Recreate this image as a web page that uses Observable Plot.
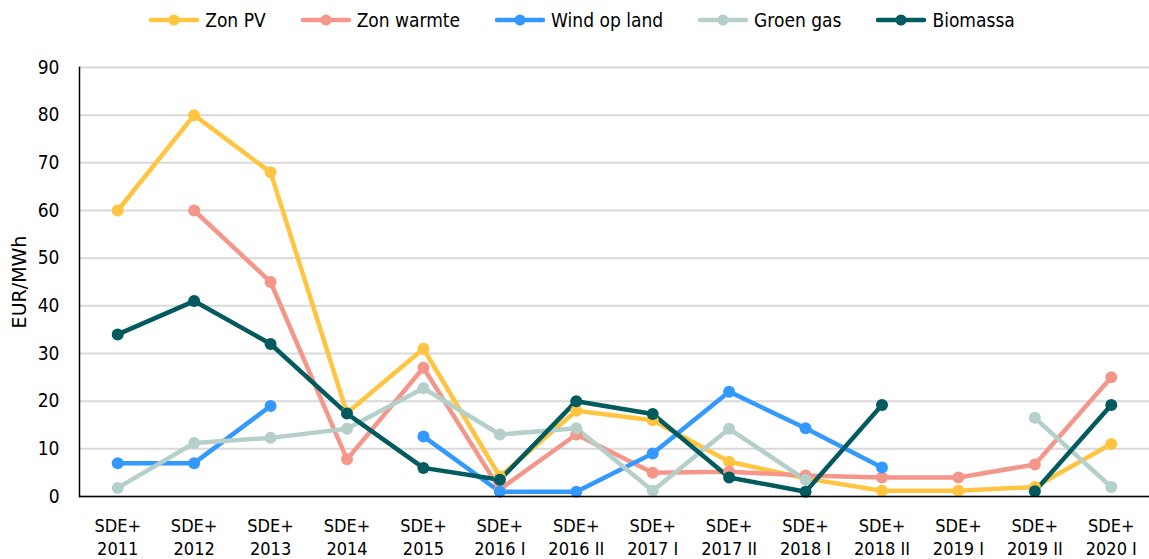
<!DOCTYPE html>
<html>
<head>
<meta charset="utf-8">
<script src="https://cdn.jsdelivr.net/npm/d3@7"></script>
<script src="https://cdn.jsdelivr.net/npm/@observablehq/plot@0.6"></script>
<style>
  html, body { margin: 0; padding: 0; background: #fff; }
  body { width: 1149px; height: 559px; overflow: hidden; font-family: "DejaVu Sans Condensed", "DejaVu Sans", sans-serif; }
  #legend { height: 40px; display: flex; justify-content: center; align-items: center; gap: 34px; font-size: 19px; color: #000; padding-left: 14px; box-sizing: border-box; }
  .item { display: flex; align-items: center; gap: 5px; }
</style>
</head>
<body>
<div id="legend"></div>
<div id="chart"></div>
<script>
const categories = ["SDE+\n2011","SDE+\n2012","SDE+\n2013","SDE+\n2014","SDE+\n2015","SDE+\n2016 I","SDE+\n2016 II","SDE+\n2017 I","SDE+\n2017 II","SDE+\n2018 I","SDE+\n2018 II","SDE+\n2019 I","SDE+\n2019 II","SDE+\n2020 I"];
const seriesNames = ["Zon PV","Zon warmte","Wind op land","Groen gas","Biomassa"];
const seriesColors = ["#FFC440","#F4978A","#3399FF","#B5CFCB","#005A5E"];
const zonPV      = [60, 80, 68, 17.5, 31, 4.2, 18, 16, 7.3, 3.8, 1.2, 1.2, 2, 11];
const zonWarmte  = [null, 60, 45, 7.8, 27, 1.5, 13, 5, 5.2, 4.4, 4, 4, 6.7, 25];
const windOpLand = [7, 7, 19, null, 12.6, 1, 1, 9, 22, 14.3, 6.1, null, null, null];
const groenGas   = [1.8, 11.2, 12.3, 14.2, 22.7, 13, 14.3, 1.2, 14.2, 3.5, null, null, 16.5, 2];
const biomassa   = [34, 41, 32, 17.4, 6, 3.5, 20, 17.3, 4, 1, 19.2, null, 1.1, 19.2];
const yTicks = [0,10,20,30,40,50,60,70,80,90];
const yLabel = "EUR/MWh";

const allSeries = [zonPV, zonWarmte, windOpLand, groenGas, biomassa];
const data = [];
allSeries.forEach((vals, si) => {
  vals.forEach((v, i) => data.push({cat: categories[i], value: v, series: seriesNames[si]}));
});

// legend
const legend = document.getElementById("legend");
seriesNames.forEach((name, i) => {
  const item = document.createElement("div");
  item.className = "item";
  item.innerHTML = `<svg width="52" height="14"><line x1="3" y1="7" x2="49" y2="7" stroke="${seriesColors[i]}" stroke-width="4.5" stroke-linecap="round"/><circle cx="26" cy="7" r="5.5" fill="${seriesColors[i]}"/></svg><span>${name}</span>`;
  legend.appendChild(item);
});

const chart = Plot.plot({
  width: 1149,
  height: 519,
  marginTop: 27,
  marginBottom: 63,
  marginLeft: 79,
  marginRight: 0,
  style: {fontFamily: '"DejaVu Sans Condensed", "DejaVu Sans", sans-serif', fontSize: "18px", color: "#000", background: "#fff"},
  x: {type: "point", domain: categories, padding: 0.5, round: false},
  y: {domain: [0, 90]},
  color: {domain: seriesNames, range: seriesColors},
  marks: [
    Plot.gridY(yTicks, {stroke: "#d9d9d9", strokeOpacity: 1, strokeWidth: 2}),
    Plot.axisY(yTicks, {tickSize: 0, tickPadding: 20, fontSize: 19, label: null}),
    Plot.axisY({ticks: [], tickSize: 0, label: yLabel, labelAnchor: "center", labelArrow: "none", labelOffset: 67, fontSize: 19, fontFamily: '"DejaVu Sans", sans-serif'}),
    Plot.axisX({tickSize: 0, tickPadding: 18, fontSize: 18, lineHeight: 1.33, label: null}),
    Plot.line(data, {x: "cat", y: "value", z: "series", stroke: "series", strokeWidth: 4.5, curve: "linear"}),
    Plot.dot(data.filter(d => d.value != null), {x: "cat", y: "value", fill: "series", r: 6}),
    Plot.ruleY([0], {stroke: "#000", strokeWidth: 1.5}),
    Plot.frame({anchor: "left", stroke: "#000", strokeWidth: 1.5})
  ]
});
document.getElementById("chart").appendChild(chart);
</script>
</body>
</html>
